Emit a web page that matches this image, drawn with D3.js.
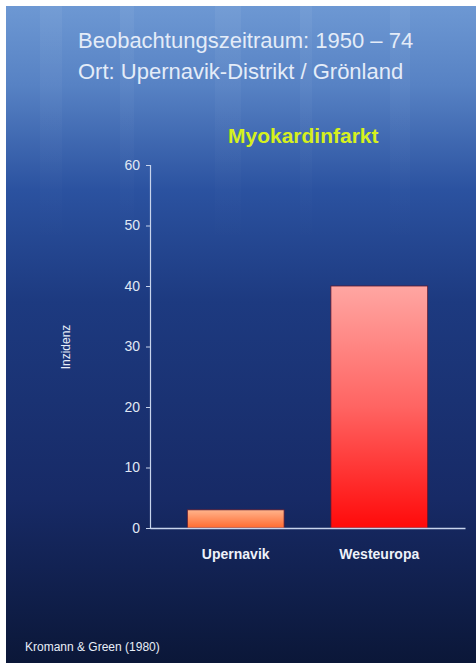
<!DOCTYPE html>
<html>
<head>
    <meta charset="utf-8">
    <script src="https://d3js.org/d3.v7.min.js"></script>
    <style>
        body {
            margin: 0;
            background: #fff;
            font-family: "Liberation Sans", Arial, sans-serif;
        }
        svg {
            display: block;
        }
    </style>
</head>
<body>
    <svg id="chart" width="476" height="663"></svg>

    <script>
        // data
        const categories = ["Upernavik", "Westeuropa"];
        const values = [3, 40];
        const yTicks = [0, 10, 20, 30, 40, 50, 60];
        const titleLines = ["Beobachtungszeitraum: 1950 – 74", "Ort: Upernavik-Distrikt / Grönland"];
        const chartTitle = "Myokardinfarkt";
        const yLabel = "Inzidenz";
        const source = "Kromann & Green (1980)";

        const svg = d3.select("#chart");
        const defs = svg.append("defs");

        // background gradient
        const bg = defs.append("linearGradient").attr("id", "bg")
            .attr("x1", 0).attr("y1", 0).attr("x2", 0).attr("y2", 1);
        bg.append("stop").attr("offset", "0%").attr("stop-color", "#6d98d3");
        bg.append("stop").attr("offset", "12%").attr("stop-color", "#5782c4");
        bg.append("stop").attr("offset", "28%").attr("stop-color", "#2b52a0");
        bg.append("stop").attr("offset", "45%").attr("stop-color", "#1d3a80");
        bg.append("stop").attr("offset", "75%").attr("stop-color", "#172a66");
        bg.append("stop").attr("offset", "100%").attr("stop-color", "#0b1738");

        const gradOrange = defs.append("linearGradient").attr("id", "gOrange")
            .attr("x1", 0).attr("y1", 0).attr("x2", 0).attr("y2", 1);
        gradOrange.append("stop").attr("offset", "0%").attr("stop-color", "#ffb48c");
        gradOrange.append("stop").attr("offset", "100%").attr("stop-color", "#ff6a30");

        const gradRed = defs.append("linearGradient").attr("id", "gRed")
            .attr("x1", 0).attr("y1", 0).attr("x2", 0).attr("y2", 1);
        gradRed.append("stop").attr("offset", "0%").attr("stop-color", "#ffa6a2");
        gradRed.append("stop").attr("offset", "50%").attr("stop-color", "#ff6462");
        gradRed.append("stop").attr("offset", "100%").attr("stop-color", "#ff0a0a");

        // faint light rays
        const rays = defs.append("linearGradient").attr("id", "ray")
            .attr("x1", 0).attr("y1", 0).attr("x2", 0).attr("y2", 1);
        rays.append("stop").attr("offset", "0%").attr("stop-color", "#ffffff").attr("stop-opacity", 0.05);
        rays.append("stop").attr("offset", "100%").attr("stop-color", "#ffffff").attr("stop-opacity", 0);

        svg.append("rect")
            .attr("x", 6).attr("y", 6)
            .attr("width", 470).attr("height", 657)
            .attr("fill", "url(#bg)");

        [[40, 22], [120, 14], [215, 26], [300, 12], [390, 20]].forEach(([x, w]) => {
            svg.append("rect")
                .attr("x", x).attr("y", 6)
                .attr("width", w).attr("height", 240)
                .attr("fill", "url(#ray)");
        });

        // titles
        svg.selectAll(".title-line")
            .data(titleLines)
            .enter()
            .append("text")
            .attr("class", "title-line")
            .attr("x", 78)
            .attr("y", (d, i) => 48 + i * 31)
            .attr("font-size", 22)
            .attr("fill", "#e4ecf8")
            .text(d => d);

        svg.append("text")
            .attr("x", 228)
            .attr("y", 143)
            .attr("font-size", 21)
            .attr("font-weight", "bold")
            .attr("fill", "#d6f01e")
            .text(chartTitle);

        // scales
        const x = d3.scaleBand()
            .domain(categories)
            .range([150, 465])
            .paddingInner(0.326)
            .paddingOuter(0.26);

        const y = d3.scaleLinear()
            .domain([0, 60])
            .range([528, 165]);

        const g = svg.append("g");

        // bars
        g.selectAll(".bar")
            .data(categories)
            .enter()
            .append("rect")
            .attr("class", "bar")
            .attr("x", d => x(d))
            .attr("y", (d, i) => y(values[i]))
            .attr("width", x.bandwidth())
            .attr("height", (d, i) => y(0) - y(values[i]))
            .attr("fill", (d, i) => i === 0 ? "url(#gOrange)" : "url(#gRed)")
            .attr("stroke", "#5a1830")
            .attr("stroke-width", 0.8);

        // y axis
        const yAxis = g.append("g")
            .attr("transform", "translate(150,0)")
            .call(d3.axisLeft(y).tickValues(yTicks).tickSize(4).tickPadding(6));
        yAxis.select(".domain").attr("stroke", "#c8d4ec").attr("stroke-width", 1.2);
        yAxis.selectAll(".tick line").attr("stroke", "#c8d4ec");
        yAxis.selectAll(".tick text")
            .attr("fill", "#e0e8f4")
            .attr("font-size", 14)
            .attr("font-family", "Liberation Sans, Arial, sans-serif");

        // x axis
        const xAxis = g.append("g")
            .attr("transform", "translate(0,528)")
            .call(d3.axisBottom(x).tickSize(0).tickPadding(21));
        xAxis.select(".domain").attr("stroke", "#c8d4ec").attr("stroke-width", 1.5);
        xAxis.selectAll(".tick text")
            .attr("fill", "#eef2fa")
            .attr("font-size", 14)
            .attr("font-weight", "bold")
            .attr("font-family", "Liberation Sans, Arial, sans-serif");

        // y label
        svg.append("text")
            .attr("transform", "translate(70,347) rotate(-90)")
            .attr("text-anchor", "middle")
            .attr("font-size", 12)
            .attr("fill", "#e8eef8")
            .text(yLabel);

        // source
        svg.append("text")
            .attr("x", 25)
            .attr("y", 651)
            .attr("font-size", 12)
            .attr("fill", "#e8eef8")
            .text(source);
    </script>
</body>
</html>
